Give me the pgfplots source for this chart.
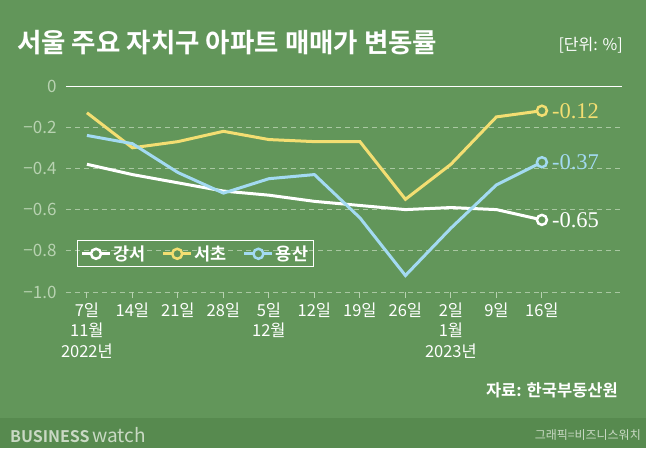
\documentclass[border=0pt]{standalone}
\usepackage{fontspec}
\setmainfont{Noto Sans CJK KR}[BoldFont={Noto Sans CJK KR Bold}]
\newfontfamily\serif{Liberation Serif}
\usepackage{pgfplots}
\pgfplotsset{compat=1.18}
\definecolor{bg}{HTML}{62965A}
\definecolor{bar}{HTML}{578A4F}
\definecolor{gridc}{HTML}{A9C7A2}
\definecolor{ylab}{HTML}{B8D2B1}
\definecolor{yel}{HTML}{F3DE72}
\definecolor{blu}{HTML}{A3DAF2}
\definecolor{foot}{HTML}{C9D9C4}
\begin{document}
\begin{tikzpicture}
\fill[bg] (0pt,0pt) rectangle (646pt,448pt);
\fill[bar] (0pt,0pt) rectangle (646pt,30pt);
\node[anchor=west, text=white, font=\fontsize{26.5}{26.5}\selectfont\bfseries, inner sep=0pt] at (17pt,405pt) {서울 주요 자치구 아파트 매매가 변동률};
\node[anchor=east, text=white, font=\fontsize{16}{16}\selectfont, inner sep=0pt] at (623pt,402.5pt) {[단위: \%]};
\node[anchor=east, text=white, font=\fontsize{16.5}{16.5}\selectfont\bfseries, inner sep=0pt] at (618pt,58pt) {자료: 한국부동산원};
\node[anchor=west, text=foot, font=\fontsize{16}{16}\selectfont\bfseries, inner sep=0pt] at (10pt,13pt) {BUSINESS\,{\mdseries\fontsize{19}{19}\selectfont watch}};
\node[anchor=east, text=foot, font=\fontsize{12}{12}\selectfont, inner sep=0pt] at (641pt,13pt) {그래픽=비즈니스워치};
\begin{axis}[
  at={(66pt,156pt)}, anchor=south west,
  scale only axis, width=556pt, height=206pt,
  xmin=-0.46, xmax=11.76, ymin=-1, ymax=0,
  clip=false,
  axis line style={draw=none},
  xtick={0,...,10},
  xticklabels={{7일\\11월\\2022년},14일,21일,28일,{5일\\12월},12일,19일,26일,{2일\\1월\\2023년},9일,16일},
  xticklabel style={align=center, text=white, font=\fontsize{16.5}{20.5}\selectfont, anchor=north, yshift=-1pt},
  tick align=outside, major tick length=6pt,
  xtick style={draw=ylab, line width=1pt},
  xtick pos=bottom,
  ytick={0,-0.2,-0.4,-0.6,-0.8,-1},
  yticklabels={0,−0.2,−0.4,−0.6,−0.8,−1.0},
  yticklabel style={text=ylab, font=\fontsize{17}{17}\selectfont},
  ytick style={draw=none},
  ymajorgrids,
  major grid style={gridc, dash pattern=on 5pt off 4pt, line width=0.8pt},
  legend columns=3,
  legend style={draw=white, line width=0.8pt, fill=none, at={(0.02,0.12)}, anchor=south west,
    text=white, font=\fontsize{17.5}{17.5}\selectfont\bfseries, inner sep=3pt,
    /tikz/every even column/.append style={column sep=14pt}},
  legend image code/.code={
    \draw[#1, line width=3pt] (0pt,0pt) -- (28pt,0pt);
    \draw[#1, line width=2.5pt, fill=bg] (14pt,0pt) circle (5pt);
  },
]
\draw[white, line width=1pt] (axis cs:-0.46,0) -- (axis cs:11.76,0);
\addplot[white, line width=3pt, forget plot] coordinates {(0,-0.38)(1,-0.43)(2,-0.47)(3,-0.51)(4,-0.53)(5,-0.56)(6,-0.58)(7,-0.60)(8,-0.59)(9,-0.60)(10,-0.65)};
\addplot[yel, line width=3pt, forget plot] coordinates {(0,-0.13)(1,-0.30)(2,-0.27)(3,-0.22)(4,-0.26)(5,-0.27)(6,-0.27)(7,-0.55)(8,-0.38)(9,-0.15)(10,-0.12)};
\addplot[blu, line width=3pt, forget plot] coordinates {(0,-0.24)(1,-0.28)(2,-0.42)(3,-0.52)(4,-0.45)(5,-0.43)(6,-0.64)(7,-0.92)(8,-0.69)(9,-0.48)(10,-0.37)};
\addplot[white, only marks, mark=*, mark size=5pt, mark options={fill=bg, draw=white, line width=2.5pt}, forget plot] coordinates {(10,-0.65)};
\addplot[yel, only marks, mark=*, mark size=5pt, mark options={fill=bg, draw=yel, line width=2.5pt}, forget plot] coordinates {(10,-0.12)};
\addplot[blu, only marks, mark=*, mark size=5pt, mark options={fill=bg, draw=blu, line width=2.5pt}, forget plot] coordinates {(10,-0.37)};
\node[anchor=west, text=white, font=\serif\fontsize{22.5}{22.5}\selectfont, inner sep=0pt] at (axis cs:10,-0.65) {\hspace{10pt}-0.65};
\node[anchor=west, text=yel, font=\serif\fontsize{22.5}{22.5}\selectfont, inner sep=0pt] at (axis cs:10,-0.12) {\hspace{10pt}-0.12};
\node[anchor=west, text=blu, font=\serif\fontsize{22.5}{22.5}\selectfont, inner sep=0pt] at (axis cs:10,-0.37) {\hspace{10pt}-0.37};
\addlegendimage{white}
\addlegendentry{강서}
\addlegendimage{yel}
\addlegendentry{서초}
\addlegendimage{blu}
\addlegendentry{용산}
\end{axis}
\end{tikzpicture}
\end{document}
